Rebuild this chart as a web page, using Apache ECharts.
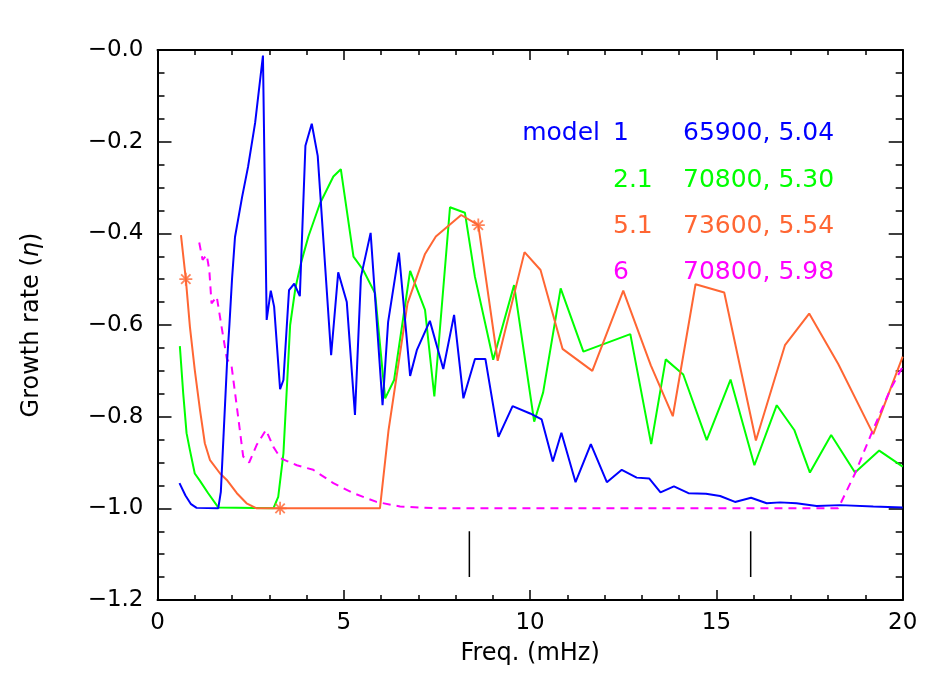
<!DOCTYPE html>
<html>
<head>
<meta charset="utf-8">
<script src="https://cdn.jsdelivr.net/npm/echarts@6.0.0/dist/echarts.min.js"></script>
<style>
html,body{margin:0;padding:0;background:#fff;}
#chart{width:950px;height:700px;}
</style>
</head>
<body>
<div id="chart"></div>
<script>
// ---- data ----
const model1 = [[0.59,-0.945],[0.75,-0.972],[0.9,-0.991],[1.05,-0.999],[1.63,-1.0],[1.70,-0.964],[1.87,-0.676],[1.93,-0.60],[2.0,-0.50],[2.08,-0.408],[2.27,-0.321],[2.43,-0.255],[2.62,-0.159],[2.83,-0.012],[2.93,-0.589],[3.04,-0.525],[3.13,-0.56],[3.29,-0.74],[3.38,-0.72],[3.53,-0.524],[3.67,-0.51],[3.82,-0.537],[3.97,-0.209],[4.14,-0.161],[4.30,-0.231],[4.66,-0.666],[4.85,-0.485],[5.08,-0.55],[5.30,-0.796],[5.46,-0.495],[5.72,-0.399],[6.04,-0.775],[6.19,-0.593],[6.48,-0.442],[6.78,-0.711],[6.96,-0.655],[7.31,-0.591],[7.67,-0.696],[7.96,-0.578],[8.21,-0.76],[8.52,-0.674],[8.80,-0.674],[9.15,-0.844],[9.53,-0.777],[10.0,-0.793],[10.31,-0.806],[10.61,-0.898],[10.84,-0.835],[11.22,-0.943],[11.63,-0.86],[12.06,-0.943],[12.46,-0.916],[12.86,-0.933],[13.20,-0.935],[13.50,-0.965],[13.86,-0.952],[14.25,-0.967],[14.72,-0.968],[15.10,-0.973],[15.50,-0.986],[15.93,-0.977],[16.35,-0.989],[16.71,-0.987],[17.15,-0.989],[17.69,-0.995],[18.32,-0.993],[19.21,-0.996],[20.0,-0.998]];
const model21 = [[0.60,-0.646],[0.69,-0.749],[0.78,-0.836],[0.87,-0.873],[1.0,-0.924],[1.14,-0.94],[1.36,-0.967],[1.63,-0.998],[3.11,-1.0],[3.24,-0.975],[3.38,-0.88],[3.56,-0.60],[3.70,-0.52],[3.85,-0.465],[4.05,-0.407],[4.36,-0.335],[4.72,-0.276],[4.92,-0.26],[5.26,-0.451],[5.52,-0.48],[5.84,-0.531],[6.11,-0.76],[6.35,-0.72],[6.78,-0.482],[7.18,-0.567],[7.43,-0.756],[7.85,-0.343],[8.25,-0.355],[8.52,-0.495],[9.01,-0.676],[9.57,-0.513],[10.11,-0.811],[10.35,-0.747],[10.82,-0.52],[11.43,-0.658],[12.69,-0.62],[13.25,-0.86],[13.64,-0.675],[14.11,-0.708],[14.74,-0.851],[15.38,-0.719],[16.02,-0.906],[16.62,-0.775],[17.09,-0.829],[17.51,-0.922],[18.08,-0.84],[18.72,-0.922],[19.37,-0.874],[20.0,-0.909]];
const model51 = [[0.63,-0.404],[0.76,-0.50],[0.87,-0.604],[1.0,-0.698],[1.14,-0.785],[1.27,-0.858],[1.41,-0.895],[1.68,-0.924],[1.86,-0.938],[2.13,-0.967],[2.39,-0.989],[2.66,-1.0],[5.97,-1.0],[6.2,-0.83],[6.71,-0.553],[7.18,-0.445],[7.47,-0.407],[8.15,-0.36],[8.61,-0.382],[9.13,-0.678],[9.85,-0.441],[10.28,-0.48],[10.87,-0.652],[11.67,-0.70],[12.50,-0.525],[13.24,-0.688],[13.83,-0.799],[14.44,-0.511],[15.21,-0.529],[16.06,-0.852],[16.84,-0.644],[17.49,-0.575],[18.27,-0.685],[19.21,-0.838],[20.0,-0.669]];
const model6 = [[1.12,-0.42],[1.21,-0.458],[1.32,-0.447],[1.39,-0.48],[1.45,-0.553],[1.59,-0.538],[1.72,-0.604],[1.86,-0.673],[1.99,-0.691],[2.14,-0.785],[2.30,-0.887],[2.46,-0.90],[2.66,-0.862],[2.91,-0.829],[3.11,-0.866],[3.31,-0.891],[3.74,-0.906],[4.18,-0.916],[4.72,-0.945],[5.26,-0.967],[5.88,-0.986],[6.51,-0.996],[7.5,-1.0],[18.27,-1.0],[18.72,-0.924],[19.17,-0.835],[19.66,-0.742],[20.0,-0.691]];
const model51Stars = [[0.76,-0.50],[3.29,-1.0],[8.61,-0.382]];
const markerFreqs = [8.37, 15.92];
const markerRange = [-1.05, -1.15];
const modelNames = ['1', '2.1', '5.1', '6'];
const modelInfo = ['65900, 5.04', '70800, 5.30', '73600, 5.54', '70800, 5.98'];
const modelColors = ['#0000ff', '#00ff00', '#ff6633', '#ff00ff'];
const xTicks = {min: 0, max: 20, step: 5};
const yTicks = {min: -1.2, max: 0, step: 0.2};

// ---- chart ----
const FONT = 'DejaVu Sans';
const chart = echarts.init(document.getElementById('chart'), null, {renderer: 'canvas'});

function axisCommon(showLabels, isX) {
  return {
    type: 'value',
    axisLine: {show: true, onZero: false, lineStyle: {color: '#000', width: 2}},
    axisTick: {show: true, inside: true, length: isX ? 10 : 14, lineStyle: {color: '#000', width: 1.5}},
    minorTick: {show: true, splitNumber: isX ? 5 : 4, length: isX ? 5 : 7, lineStyle: {color: '#000', width: 1.5}},
    splitLine: {show: false},
    minorSplitLine: {show: false},
    axisLabel: {show: showLabels, color: '#000', fontSize: 23, fontFamily: FONT}
  };
}

const xBottom = Object.assign(axisCommon(true, true), {
  position: 'bottom', min: xTicks.min, max: xTicks.max, interval: xTicks.step,
  name: 'Freq. (mHz)', nameLocation: 'middle', nameGap: 42,
  nameTextStyle: {color: '#000', fontSize: 24, fontFamily: FONT}
});
xBottom.axisLabel.margin = 12;
const xTop = Object.assign(axisCommon(false, true), {
  position: 'top', min: xTicks.min, max: xTicks.max, interval: xTicks.step
});
const yLeft = Object.assign(axisCommon(true, false), {
  position: 'left', min: yTicks.min, max: yTicks.max, interval: yTicks.step,
  name: 'Growth rate ({e|η})', nameLocation: 'middle', nameGap: 114, nameRotate: 90,
  nameTextStyle: {color: '#000', fontSize: 24, fontFamily: FONT,
    rich: {e: {fontStyle: 'italic', fontSize: 24, fontFamily: FONT, color: '#000'}}}
});
yLeft.axisLabel.margin = 14;
yLeft.axisLabel.formatter = function (v) {
  return (v <= 0 ? '\u2212' : '') + Math.abs(v).toFixed(1);
};
const yRight = Object.assign(axisCommon(false, false), {
  position: 'right', min: yTicks.min, max: yTicks.max, interval: yTicks.step
});

const lineSeries = [model1, model21, model51, model6].map(function (d, i) {
  return {
    type: 'line', data: d, xAxisIndex: 0, yAxisIndex: 0,
    showSymbol: false, symbol: 'none', animation: false, z: 3 + (i === 0 ? 1 : 0),
    lineStyle: {color: modelColors[i], width: 2, type: i === 3 ? [8, 6] : 'solid'}
  };
});

const markerSeries = markerFreqs.map(function (f) {
  return {
    type: 'line', data: [[f, markerRange[0]], [f, markerRange[1]]],
    symbol: 'none', animation: false,
    lineStyle: {color: '#000', width: 1.5}
  };
});

const starSeries = {
  type: 'scatter', data: model51Stars, animation: false, z: 5,
  symbol: 'path://M0,-5L0,5M-5,0L5,0M-3.6,-3.6L3.6,3.6M-3.6,3.6L3.6,-3.6',
  symbolSize: 13,
  itemStyle: {color: 'rgba(0,0,0,0)', borderColor: modelColors[2], borderWidth: 1.8}
};

const rowY = [133, 180, 226, 272];
const graphics = [{
  type: 'text', x: 600, y: rowY[0],
  style: {text: 'model', fill: modelColors[0], fontSize: 25, fontFamily: FONT, textAlign: 'right', textVerticalAlign: 'middle'}
}];
modelNames.forEach(function (n, i) {
  graphics.push({type: 'text', x: 613, y: rowY[i],
    style: {text: n, fill: modelColors[i], fontSize: 25, fontFamily: FONT, textAlign: 'left', textVerticalAlign: 'middle'}});
  graphics.push({type: 'text', x: 683, y: rowY[i],
    style: {text: modelInfo[i], fill: modelColors[i], fontSize: 25, fontFamily: FONT, textAlign: 'left', textVerticalAlign: 'middle'}});
});

chart.setOption({
  backgroundColor: '#fff',
  animation: false,
  grid: {left: 157.5, right: 47.3, top: 50, bottom: 100, containLabel: false},
  xAxis: [xBottom, xTop],
  yAxis: [yLeft, yRight],
  series: lineSeries.concat(markerSeries, [starSeries]),
  graphic: graphics
});
</script>
</body>
</html>
